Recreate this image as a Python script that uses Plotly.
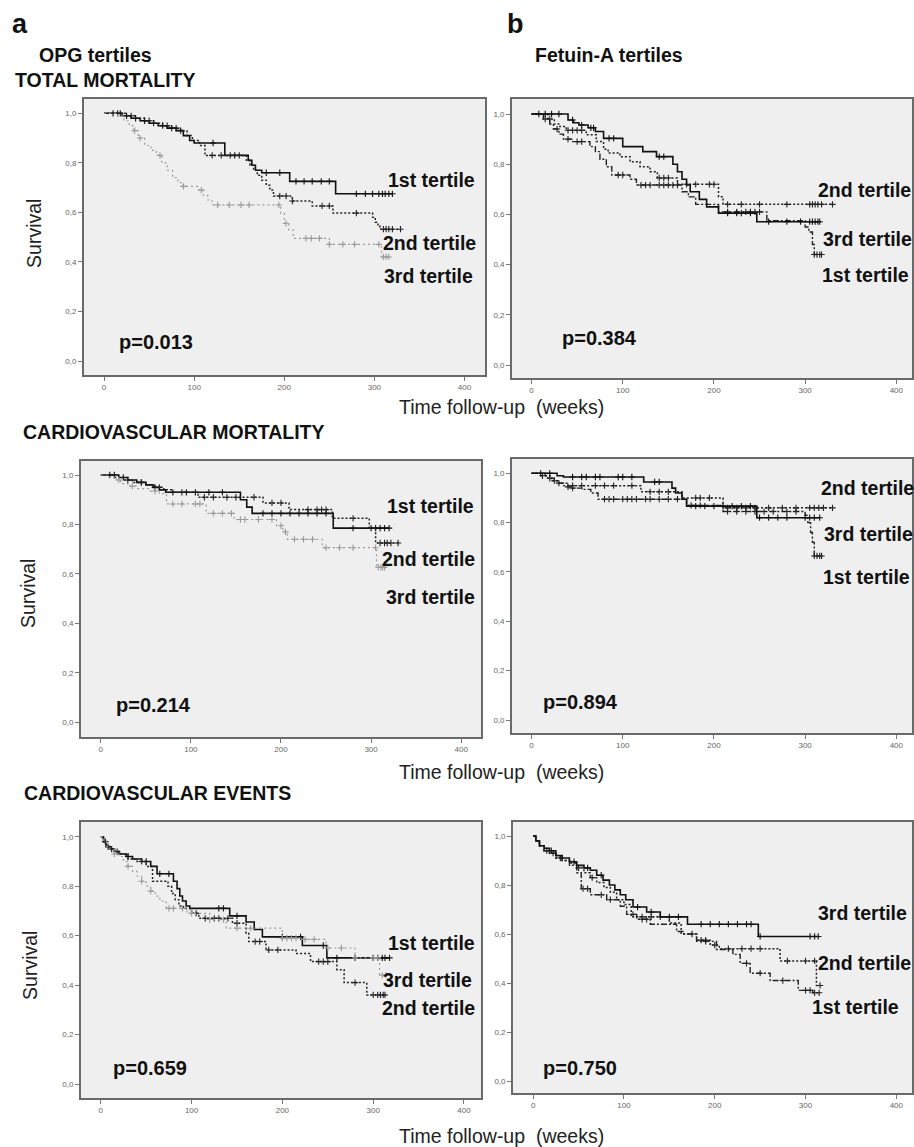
import plotly.graph_objects as go

W, H = 914, 1147

# ---------------- axis ticks ----------------
Y_TICKS = [0, 0.2, 0.4, 0.6, 0.8, 1.0]
Y_TICK_LABELS = ["0,0", "0,2", "0,4", "0,6", "0,8", "1,0"]
X_TICKS = [0, 100, 200, 300, 400]
X_TICK_LABELS = ["0", "100", "200", "300", "400"]

TERTILES = ["1st tertile", "2nd tertile", "3rd tertile"]
P_VALUES = ["p=0.013", "p=0.384", "p=0.214", "p=0.894", "p=0.659", "p=0.750"]
ROW_TITLES = ["TOTAL MORTALITY", "CARDIOVASCULAR MORTALITY", "CARDIOVASCULAR EVENTS"]
COL_TITLES = ["OPG tertiles", "Fetuin-A tertiles"]
X_TITLE = "Time follow-up  (weeks)"
Y_TITLE = "Survival"

# ---------------- data: (event times, survival after event, censored times) ----------------
# Panel a, total mortality (OPG)
A1_T1_time = [0, 20, 30, 40, 50, 60, 70, 80, 88, 95, 100, 134, 160, 164, 168, 175, 206, 257]
A1_T1_surv = [1.0, 0.99, 0.98, 0.97, 0.96, 0.95, 0.94, 0.93, 0.91, 0.89, 0.88, 0.83, 0.81, 0.79, 0.77, 0.76, 0.725, 0.675]
A1_T1_cens = [10, 18, 25, 35, 45, 55, 65, 75, 85, 121, 145, 180, 195, 213, 222, 231, 241, 250, 280, 290, 298, 305, 309, 312, 316, 320]
A1_T2_time = [0, 25, 35, 45, 55, 65, 75, 85, 92, 98, 106, 112, 158, 162, 166, 170, 175, 180, 184, 188, 209, 231, 254, 298, 301, 304, 306]
A1_T2_surv = [1.0, 0.99, 0.98, 0.97, 0.96, 0.95, 0.94, 0.93, 0.91, 0.89, 0.87, 0.83, 0.81, 0.79, 0.77, 0.75, 0.73, 0.71, 0.69, 0.666, 0.646, 0.626, 0.597, 0.58, 0.56, 0.545, 0.532]
A1_T2_cens = [15, 30, 50, 70, 80, 120, 130, 140, 150, 195, 202, 209, 242, 250, 280, 310, 313, 316, 320, 329]
A1_T3_time = [0, 15, 22, 28, 33, 38, 45, 52, 58, 64, 70, 76, 82, 88, 105, 110, 115, 120, 196, 200, 205, 210, 250, 308]
A1_T3_surv = [1.0, 0.99, 0.97, 0.95, 0.93, 0.90, 0.87, 0.85, 0.83, 0.80, 0.77, 0.74, 0.72, 0.705, 0.69, 0.67, 0.65, 0.63, 0.596, 0.556, 0.529, 0.495, 0.471, 0.42]
A1_T3_cens = [34, 40, 62, 88, 108, 126, 139, 152, 161, 194, 202, 224, 230, 239, 250, 265, 278, 305, 310, 313, 316]

# Panel b, total mortality (Fetuin-A)
B1_T1_time = [0, 13, 20, 24, 30, 35, 44, 64, 70, 75, 82, 88, 108, 115, 165, 172, 180, 205, 258, 300, 304, 308, 310]
B1_T1_surv = [1.0, 0.98, 0.96, 0.94, 0.92, 0.90, 0.89, 0.87, 0.85, 0.82, 0.79, 0.757, 0.74, 0.717, 0.69, 0.67, 0.64, 0.61, 0.575, 0.55, 0.53, 0.48, 0.44]
B1_T1_cens = [15, 28, 40, 50, 55, 95, 100, 120, 125, 130, 140, 145, 150, 155, 160, 215, 225, 235, 240, 245, 250, 310, 313, 316, 318]
B1_T2_time = [0, 18, 25, 31, 38, 60, 71, 79, 84, 97, 108, 119, 130, 138, 160, 205, 210]
B1_T2_surv = [1.0, 0.98, 0.96, 0.95, 0.935, 0.917, 0.89, 0.86, 0.845, 0.83, 0.81, 0.79, 0.77, 0.745, 0.72, 0.67, 0.64]
B1_T2_cens = [20, 40, 45, 50, 55, 140, 145, 150, 170, 180, 195, 200, 215, 230, 250, 280, 305, 308, 311, 314, 318, 330]
B1_T3_time = [0, 40, 46, 52, 62, 70, 79, 100, 122, 137, 155, 160, 165, 170, 174, 184, 192, 205, 247]
B1_T3_surv = [1.0, 0.976, 0.965, 0.956, 0.945, 0.93, 0.903, 0.87, 0.85, 0.83, 0.80, 0.77, 0.74, 0.717, 0.69, 0.66, 0.63, 0.605, 0.571]
B1_T3_cens = [8, 15, 22, 30, 45, 55, 65, 68, 85, 90, 140, 145, 215, 225, 230, 240, 260, 280, 295, 305, 308, 311, 314, 316]

# Panel a, cardiovascular mortality (OPG)
A2_T1_time = [0, 20, 30, 40, 50, 58, 65, 72, 155, 162, 168, 258]
A2_T1_surv = [1.0, 0.99, 0.98, 0.97, 0.96, 0.95, 0.94, 0.93, 0.90, 0.87, 0.845, 0.785]
A2_T1_cens = [10, 15, 25, 45, 60, 80, 95, 105, 120, 135, 180, 190, 200, 210, 220, 230, 240, 250, 280, 300, 305, 310, 315, 320]
A2_T2_time = [0, 15, 25, 35, 50, 60, 70, 80, 108, 180, 209, 257, 298, 305]
A2_T2_surv = [1.0, 0.99, 0.98, 0.97, 0.96, 0.95, 0.94, 0.93, 0.91, 0.887, 0.86, 0.825, 0.786, 0.725]
A2_T2_cens = [30, 45, 65, 90, 115, 125, 140, 150, 170, 190, 200, 230, 240, 245, 250, 280, 310, 315, 318, 322, 330]
A2_T3_time = [0, 8, 15, 22, 30, 40, 55, 65, 73, 117, 148, 195, 202, 207, 246, 306]
A2_T3_surv = [1.0, 0.99, 0.98, 0.965, 0.955, 0.945, 0.935, 0.925, 0.883, 0.845, 0.82, 0.795, 0.77, 0.74, 0.706, 0.627]
A2_T3_cens = [20, 35, 60, 80, 90, 105, 110, 125, 135, 145, 155, 160, 175, 190, 200, 205, 215, 225, 235, 250, 265, 280, 305, 308, 311, 313, 315]

# Panel b, cardiovascular mortality (Fetuin-A)
B2_T1_time = [0, 15, 20, 25, 30, 35, 40, 45, 55, 65, 73, 170, 210, 300, 303, 306, 308, 310]
B2_T1_surv = [1.0, 0.99, 0.98, 0.97, 0.96, 0.95, 0.945, 0.94, 0.935, 0.92, 0.895, 0.87, 0.845, 0.83, 0.80, 0.76, 0.72, 0.665]
B2_T1_cens = [20, 30, 40, 45, 80, 85, 90, 100, 105, 110, 115, 125, 130, 140, 150, 160, 175, 185, 215, 225, 235, 245, 255, 265, 280, 290, 310, 313, 316, 318]
B2_T2_time = [0, 10, 18, 22, 30, 40, 120, 165, 210]
B2_T2_surv = [1.0, 0.99, 0.98, 0.97, 0.96, 0.95, 0.925, 0.90, 0.86]
B2_T2_cens = [12, 25, 45, 55, 70, 80, 90, 110, 130, 140, 150, 180, 185, 195, 215, 225, 235, 245, 260, 275, 290, 305, 310, 315, 320, 330]
B2_T3_time = [0, 28, 35, 123, 154, 158, 165, 170, 247]
B2_T3_surv = [1.0, 0.99, 0.985, 0.965, 0.94, 0.92, 0.895, 0.867, 0.82]
B2_T3_cens = [10, 20, 45, 55, 60, 70, 75, 95, 100, 110, 135, 140, 180, 190, 200, 210, 220, 230, 240, 250, 260, 270, 280, 300, 305, 310, 316]

# Panel a, cardiovascular events (OPG)
A3_T1_time = [0, 3, 6, 10, 15, 20, 28, 35, 45, 55, 62, 80, 84, 87, 90, 94, 98, 142, 160, 169, 178, 222, 249]
A3_T1_surv = [1.0, 0.98, 0.96, 0.95, 0.94, 0.93, 0.92, 0.91, 0.90, 0.88, 0.85, 0.82, 0.79, 0.76, 0.74, 0.72, 0.71, 0.68, 0.655, 0.625, 0.595, 0.56, 0.51]
A3_T1_cens = [5, 12, 30, 50, 65, 75, 130, 135, 150, 200, 220, 245, 260, 280, 300, 305, 310, 313, 318]
A3_T2_time = [0, 3, 6, 10, 15, 22, 30, 40, 50, 57, 74, 78, 82, 86, 91, 100, 108, 145, 160, 163, 182, 215, 231, 260, 268, 293]
A3_T2_surv = [1.0, 0.98, 0.96, 0.95, 0.94, 0.93, 0.91, 0.90, 0.88, 0.82, 0.80, 0.77, 0.745, 0.72, 0.71, 0.69, 0.67, 0.65, 0.61, 0.576, 0.542, 0.528, 0.495, 0.462, 0.41, 0.36]
A3_T2_cens = [8, 18, 45, 105, 115, 125, 130, 140, 150, 170, 175, 185, 195, 240, 245, 250, 280, 300, 305, 308, 311, 313]
A3_T3_time = [0, 3, 6, 10, 15, 20, 25, 30, 35, 40, 45, 50, 55, 60, 65, 72, 95, 120, 138, 200, 222, 248, 280, 307]
A3_T3_surv = [1.0, 0.98, 0.96, 0.95, 0.93, 0.92, 0.90, 0.88, 0.86, 0.84, 0.82, 0.80, 0.78, 0.76, 0.74, 0.71, 0.69, 0.665, 0.63, 0.59, 0.585, 0.55, 0.51, 0.44]
A3_T3_cens = [15, 30, 45, 55, 75, 80, 90, 100, 120, 135, 150, 165, 200, 205, 210, 215, 225, 235, 250, 265, 280, 300, 305, 310, 314]

# Panel b, cardiovascular events (Fetuin-A)
B3_T1_time = [0, 3, 7, 12, 18, 25, 32, 40, 48, 53, 63, 81, 96, 103, 114, 129, 158, 165, 180, 202, 220, 228, 239, 261, 292, 308]
B3_T1_surv = [1.0, 0.98, 0.96, 0.94, 0.93, 0.91, 0.90, 0.88, 0.85, 0.785, 0.76, 0.74, 0.713, 0.68, 0.66, 0.64, 0.61, 0.60, 0.57, 0.537, 0.517, 0.48, 0.44, 0.41, 0.37, 0.36]
B3_T1_cens = [22, 55, 60, 75, 85, 110, 120, 125, 190, 235, 250, 275, 300, 305, 310, 315]
B3_T2_time = [0, 3, 7, 12, 18, 25, 32, 40, 48, 56, 63, 70, 78, 85, 92, 100, 108, 150, 163, 180, 195, 205, 272, 312]
B3_T2_surv = [1.0, 0.98, 0.96, 0.94, 0.93, 0.91, 0.90, 0.89, 0.87, 0.85, 0.83, 0.81, 0.79, 0.77, 0.74, 0.72, 0.67, 0.645, 0.60, 0.575, 0.555, 0.54, 0.49, 0.39]
B3_T2_cens = [15, 30, 50, 65, 120, 130, 140, 175, 185, 190, 200, 215, 230, 240, 250, 280, 300, 310, 316]
B3_T3_time = [0, 3, 7, 12, 18, 25, 32, 40, 48, 56, 63, 70, 77, 84, 90, 96, 102, 110, 125, 140, 170, 248]
B3_T3_surv = [1.0, 0.98, 0.96, 0.95, 0.94, 0.92, 0.91, 0.895, 0.88, 0.87, 0.86, 0.84, 0.82, 0.80, 0.78, 0.76, 0.74, 0.71, 0.69, 0.67, 0.64, 0.59]
B3_T3_cens = [20, 45, 60, 75, 115, 130, 150, 160, 185, 195, 205, 215, 225, 235, 240, 250, 305, 310, 314]

PANEL_DATA = [
    [(A1_T1_time, A1_T1_surv, A1_T1_cens), (A1_T2_time, A1_T2_surv, A1_T2_cens), (A1_T3_time, A1_T3_surv, A1_T3_cens)],
    [(B1_T1_time, B1_T1_surv, B1_T1_cens), (B1_T2_time, B1_T2_surv, B1_T2_cens), (B1_T3_time, B1_T3_surv, B1_T3_cens)],
    [(A2_T1_time, A2_T1_surv, A2_T1_cens), (A2_T2_time, A2_T2_surv, A2_T2_cens), (A2_T3_time, A2_T3_surv, A2_T3_cens)],
    [(B2_T1_time, B2_T1_surv, B2_T1_cens), (B2_T2_time, B2_T2_surv, B2_T2_cens), (B2_T3_time, B2_T3_surv, B2_T3_cens)],
    [(A3_T1_time, A3_T1_surv, A3_T1_cens), (A3_T2_time, A3_T2_surv, A3_T2_cens), (A3_T3_time, A3_T3_surv, A3_T3_cens)],
    [(B3_T1_time, B3_T1_surv, B3_T1_cens), (B3_T2_time, B3_T2_surv, B3_T2_cens), (B3_T3_time, B3_T3_surv, B3_T3_cens)],
]

# ---------------- layout geometry (pixels) ----------------
# box L, R, T, B ; pixel of x=0, px per week ; pixel of y=1, pixel of y=0
GEOM = [
    (84, 486, 99, 375, 104.3, 0.903, 113.3, 361.0),
    (513, 914, 99, 378, 532.7, 0.914, 114.0, 365.0),
    (81, 482, 461, 737, 101.0, 0.903, 475.0, 722.3),
    (513, 914, 459, 733, 532.7, 0.914, 473.3, 720.0),
    (81, 482, 822, 1098, 101.0, 0.91, 836.7, 1084.0),
    (514, 914, 822, 1093, 534.3, 0.91, 836.0, 1081.0),
]

# line style per tertile for column a and column b
STYLE_A = [dict(color="#111111", dash="solid", width=1.6),
           dict(color="#222222", dash="2px,2px", width=1.5),
           dict(color="#9a9a9a", dash="2px,3px", width=1.2)]
STYLE_B = [dict(color="#222222", dash="6px,2px,2px,2px", width=1.4),
           dict(color="#222222", dash="2px,2px", width=1.5),
           dict(color="#111111", dash="solid", width=1.6)]

# label placement (left x, center y) per panel, per tertile index
LABEL_POS = [
    {0: (387, 180), 1: (382, 243), 2: (383, 276)},
    {1: (818, 190), 2: (823, 239), 0: (822, 275)},
    {0: (386, 506), 1: (381, 559), 2: (385, 597)},
    {1: (821, 488), 2: (824, 534), 0: (823, 577)},
    {0: (387, 943), 2: (382, 980), 1: (381, 1008)},
    {2: (818, 913), 1: (818, 963), 0: (812, 1007)},
]
P_POS = [(117, 342), (561, 338), (114, 705), (542, 702), (111, 1068), (542, 1068)]

FONT = "Liberation Sans, Arial, sans-serif"


def step_value(times, surv, t):
    val = surv[0]
    for ti, si in zip(times, surv):
        if ti <= t:
            val = si
    return val


fig = go.Figure()
layout = dict(width=W, height=H, margin=dict(l=0, r=0, t=0, b=0),
              paper_bgcolor="white", plot_bgcolor="#efefef", showlegend=False)

annotations = []

for i, (geom, curves) in enumerate(zip(GEOM, PANEL_DATA)):
    idx = i + 1
    L, R, T, B, x0, k, y1, y0 = geom
    xr = [(L - x0) / k, (R - x0) / k]
    yr = [(y0 - B) / (y0 - y1), (y0 - T) / (y0 - y1)]
    xa = "x" if idx == 1 else f"x{idx}"
    ya = "y" if idx == 1 else f"y{idx}"
    styles = STYLE_A if i % 2 == 0 else STYLE_B
    common = dict(showline=True, mirror=True, linecolor="#6a6a6a", linewidth=1.5,
                  showgrid=False, zeroline=False, ticks="outside", ticklen=4,
                  tickcolor="#777777", tickwidth=1,
                  tickfont=dict(family=FONT, size=8, color="#666666"))
    layout[f"xaxis{idx}"] = dict(domain=[L / W, min(R / W, 1.0)], range=xr, anchor=ya,
                                 tickvals=X_TICKS, ticktext=X_TICK_LABELS, **common)
    layout[f"yaxis{idx}"] = dict(domain=[1 - B / H, 1 - T / H], range=yr, anchor=xa,
                                 tickvals=Y_TICKS, ticktext=Y_TICK_LABELS, **common)

    for j, (times, surv, cens) in enumerate(curves):
        st = styles[j]
        end = max(max(cens), times[-1])
        fig.add_trace(go.Scatter(
            x=list(times) + [end], y=list(surv) + [surv[-1]],
            mode="lines", line=dict(shape="hv", color=st["color"], dash=st["dash"], width=st["width"]),
            xaxis=xa, yaxis=ya, hoverinfo="skip"))
        fig.add_trace(go.Scatter(
            x=cens, y=[step_value(times, surv, c) for c in cens],
            mode="markers",
            marker=dict(symbol="cross-thin", size=4.5, line=dict(width=1.1, color=st["color"])),
            xaxis=xa, yaxis=ya, hoverinfo="skip"))

    for j, (lx, ly) in LABEL_POS[i].items():
        annotations.append(dict(text=f"<b>{TERTILES[j]}</b>", x=lx / W, y=1 - ly / H,
                                xref="paper", yref="paper", xanchor="left", yanchor="middle",
                                showarrow=False, font=dict(family=FONT, size=19.5, color="#111111")))
    px, py = P_POS[i]
    annotations.append(dict(text=f"<b>{P_VALUES[i]}</b>", x=px / W, y=1 - py / H,
                            xref="paper", yref="paper", xanchor="left", yanchor="middle",
                            showarrow=False, font=dict(family=FONT, size=20, color="#111111")))


def txt(text, x, y, size, bold=False, anchor="left", angle=0, color="#111111"):
    annotations.append(dict(text=f"<b>{text}</b>" if bold else text, x=x / W, y=1 - y / H,
                            xref="paper", yref="paper", xanchor=anchor, yanchor="middle",
                            textangle=angle, showarrow=False,
                            font=dict(family=FONT, size=size, color=color)))


txt("a", 10, 24, 27, bold=True)
txt("b", 506, 24, 27, bold=True)
txt(COL_TITLES[0], 37, 55, 19.5, bold=True)
txt(COL_TITLES[1], 534, 55, 19.5, bold=True)
txt(ROW_TITLES[0], 13, 80, 19.5, bold=True)
txt(ROW_TITLES[1], 21, 432, 19.5, bold=True)
txt(ROW_TITLES[2], 22, 793, 19.5, bold=True)
for yy in (407, 772, 1136):
    annotations.append(dict(text=X_TITLE, x=503 / W, y=1 - yy / H, xref="paper", yref="paper",
                            xanchor="center", yanchor="middle", showarrow=False,
                            font=dict(family=FONT, size=19.5, color="#222222")))
for xx, yy in ((34, 233), (28, 593), (30, 965)):
    txt(Y_TITLE, xx, yy, 19.5, anchor="center", angle=-90, color="#222222")

layout["annotations"] = annotations
fig.update_layout(**layout)
fig.write_html(
    "out.html",
    config={"displayModeBar": False},
    post_script="document.documentElement.style.overflow='hidden';"
                "document.body.style.margin='0';document.body.style.overflow='hidden';",
)
